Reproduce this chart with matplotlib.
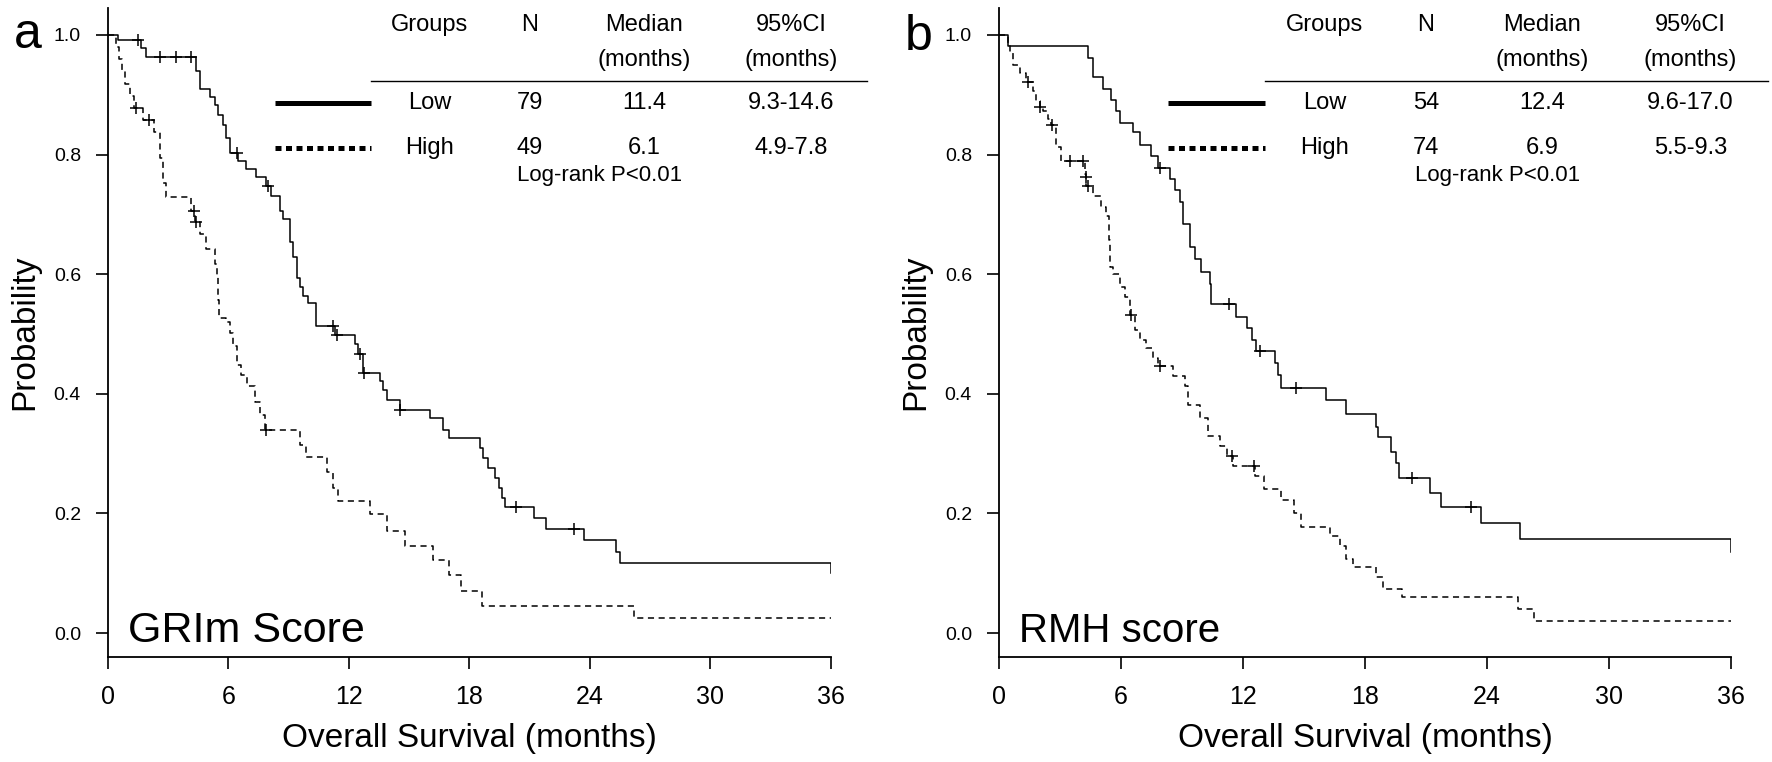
import matplotlib
matplotlib.use("Agg")
import matplotlib.pyplot as plt

plt.rcParams['font.family'] = ['Liberation Sans', 'DejaVu Sans']

# ---------------------------------------------------------------------
# data: event times (months) and survival after them
# ---------------------------------------------------------------------
# panel a: GRIm score
grim_low_t = [0, 0.5, 1.66, 1.9, 4.37, 4.57, 5.07, 5.32, 5.48, 5.73, 5.9, 6.06,
              6.48, 6.89, 7.39, 7.89, 8.14, 8.55, 8.72, 9.05, 9.22, 9.39, 9.55,
              9.72, 9.97, 10.38, 11.3, 12.29, 12.46, 12.71, 13.54, 13.70, 13.87,
              14.53, 16.03, 16.7, 17.0, 18.5, 18.65, 18.94, 19.27, 19.49, 19.6,
              19.77, 21.2, 21.8, 23.7, 25.3, 25.5, 36]
grim_low_s = [1.0, 0.992, 0.978, 0.963, 0.94, 0.91, 0.897, 0.883, 0.866, 0.849,
              0.827, 0.803, 0.79, 0.776, 0.762, 0.748, 0.731, 0.706, 0.692, 0.653,
              0.628, 0.594, 0.578, 0.564, 0.552, 0.513, 0.499, 0.483, 0.466, 0.435,
              0.421, 0.407, 0.39, 0.373, 0.359, 0.34, 0.326, 0.309, 0.292, 0.276,
              0.259, 0.242, 0.225, 0.21, 0.193, 0.174, 0.156, 0.136, 0.117, 0.10]
grim_low_cens_t = [1.5, 2.6, 3.4, 4.15, 6.4, 7.95, 11.2, 11.4, 12.55, 12.75, 14.55, 20.3, 23.2]
grim_low_cens_s = [0.992, 0.963, 0.963, 0.963, 0.803, 0.748, 0.513, 0.499, 0.466, 0.435, 0.373, 0.21, 0.174]

grim_high_t = [0, 0.42, 0.55, 0.7, 0.85, 1.1, 1.3, 1.74, 2.3, 2.6, 2.75, 2.9, 4.15,
               4.35, 4.57, 4.9, 5.32, 5.42, 5.46, 5.5, 5.54, 5.9, 6.06, 6.23, 6.4,
               6.64, 6.9, 7.3, 7.56, 7.8, 9.55, 9.88, 10.88, 11.21, 11.46, 13.04,
               13.87, 14.78, 16.2, 17.0, 17.6, 18.6, 26.2, 36]
grim_high_s = [1.0, 0.98, 0.959, 0.939, 0.918, 0.898, 0.878, 0.858, 0.837, 0.795,
               0.752, 0.729, 0.705, 0.687, 0.667, 0.642, 0.617, 0.597, 0.576, 0.556,
               0.527, 0.52, 0.502, 0.48, 0.449, 0.432, 0.413, 0.387, 0.365, 0.34,
               0.315, 0.294, 0.27, 0.243, 0.221, 0.199, 0.171, 0.145, 0.123, 0.097,
               0.071, 0.046, 0.025, 0.025]
grim_high_cens_t = [1.41, 2.04, 4.3, 4.4, 7.85]
grim_high_cens_s = [0.878, 0.858, 0.705, 0.687, 0.34]

# panel b: RMH score
rmh_low_t = [0, 0.44, 4.38, 4.62, 5.11, 5.52, 5.77, 5.93, 6.59, 6.92, 7.49, 7.82,
             8.39, 8.64, 8.89, 9.05, 9.38, 9.62, 9.95, 10.36, 10.44, 11.65, 12.2,
             12.45, 12.65, 13.56, 13.72, 13.89, 16.07, 17.05, 18.55, 18.64, 19.3,
             19.54, 19.67, 21.2, 21.75, 23.7, 25.6, 36]
rmh_low_s = [1.0, 0.982, 0.961, 0.929, 0.91, 0.892, 0.873, 0.853, 0.837, 0.816,
             0.798, 0.778, 0.759, 0.74, 0.72, 0.684, 0.645, 0.626, 0.604, 0.584,
             0.55, 0.529, 0.51, 0.49, 0.471, 0.452, 0.432, 0.41, 0.39, 0.366,
             0.345, 0.328, 0.303, 0.284, 0.26, 0.235, 0.21, 0.184, 0.158, 0.135]
rmh_low_cens_t = [7.9, 11.3, 12.85, 14.6, 20.3, 23.2]
rmh_low_cens_s = [0.778, 0.55, 0.471, 0.41, 0.26, 0.21]

rmh_high_t = [0, 0.44, 0.52, 0.69, 1.02, 1.34, 1.67, 1.84, 2.0, 2.16, 2.41, 2.55,
              2.82, 3.07, 4.21, 4.3, 4.62, 5.03, 5.28, 5.41, 5.44, 5.6, 5.93, 6.18,
              6.43, 6.67, 6.92, 7.25, 7.57, 7.8, 8.56, 9.13, 9.3, 9.87, 10.28,
              10.85, 11.2, 11.5, 12.6, 13.05, 13.88, 14.5, 14.87, 16.3, 16.75,
              17.08, 17.41, 18.55, 18.9, 19.8, 25.5, 26.3, 36]
rmh_high_s = [1.0, 0.986, 0.972, 0.95, 0.936, 0.922, 0.906, 0.889, 0.879, 0.873,
              0.859, 0.85, 0.812, 0.79, 0.767, 0.748, 0.731, 0.712, 0.698, 0.657,
              0.612, 0.601, 0.579, 0.562, 0.532, 0.507, 0.49, 0.476, 0.46, 0.446,
              0.429, 0.413, 0.382, 0.36, 0.33, 0.313, 0.296, 0.28, 0.263, 0.241,
              0.222, 0.2, 0.177, 0.163, 0.146, 0.124, 0.11, 0.093, 0.074, 0.06,
              0.04, 0.02, 0.02]
rmh_high_cens_t = [1.43, 2.0, 2.62, 3.48, 4.13, 4.3, 4.38, 6.5, 7.9, 11.45, 12.55]
rmh_high_cens_s = [0.922, 0.879, 0.85, 0.79, 0.79, 0.762, 0.748, 0.532, 0.446, 0.296, 0.28]

# table contents
header_top = ['Groups', 'N', 'Median', '95%CI']
header_bottom = ['', '', '(months)', '(months)']
groups = ['Low', 'High']
grim_n = ['79', '49']
grim_median = ['11.4', '6.1']
grim_ci = ['9.3-14.6', '4.9-7.8']
rmh_n = ['54', '74']
rmh_median = ['12.4', '6.9']
rmh_ci = ['9.6-17.0', '5.5-9.3']
logrank = 'Log-rank P<0.01'

x_ticks = [0, 6, 12, 18, 24, 30, 36]
y_ticks = [0.0, 0.2, 0.4, 0.6, 0.8, 1.0]

W, H = 1772, 762
fig = plt.figure(figsize=(W / 100, H / 100), dpi=100)

DASH = (0, (4, 3))
DOTS = (0, (1.2, 0.9))
TFS = 17  # table font size


def setup_axes(ax):
    ax.set_xlim(0, 36)
    ax.set_ylim(-0.04, 1.045)
    for side in ['top', 'right']:
        ax.spines[side].set_visible(False)
    for side in ['left', 'bottom']:
        ax.spines[side].set_linewidth(1.3)
    ax.spines['bottom'].set_bounds(0, 36)
    ax.set_xticks(x_ticks)
    ax.set_xticklabels([str(v) for v in x_ticks], fontsize=18)
    ax.set_yticks(y_ticks)
    ax.set_yticklabels([f'{v:.1f}' for v in y_ticks], fontsize=14)
    ax.tick_params(direction='out', length=8.5, width=1.2)
    ax.tick_params(axis='y', pad=11)
    ax.tick_params(axis='x', pad=12)
    ax.set_ylabel('Probability', fontsize=24, labelpad=10)
    ax.set_xlabel('Overall Survival (months)', fontsize=24, labelpad=10)


def draw_panel(ax, low_t, low_s, lc_t, lc_s, high_t, high_s, hc_t, hc_s,
               n, median, ci, score_name, score_size):
    setup_axes(ax)
    ax.step(low_t, low_s, where='post', color='black', lw=1.1)
    ax.step(high_t, high_s, where='post', color='black', lw=1.1, linestyle=DASH)
    ax.plot(lc_t, lc_s, linestyle='none', marker='+', color='black', ms=9, mew=1.1)
    ax.plot(hc_t, hc_s, linestyle='none', marker='+', color='black', ms=9, mew=1.1)

    # table in the upper right
    col_x = [16.0, 21.0, 26.7, 34.0]
    for x, top, bottom in zip(col_x, header_top, header_bottom):
        ax.text(x, 1.017, top, ha='center', va='center', fontsize=TFS)
        if bottom:
            ax.text(x, 0.958, bottom, ha='center', va='center', fontsize=TFS)
    ax.plot([13.1, 37.8], [0.923, 0.923], color='black', lw=1.0, clip_on=False)
    row_y = [0.886, 0.811]
    for i, y in enumerate(row_y):
        ax.text(col_x[0], y, groups[i], ha='center', va='center', fontsize=TFS)
        ax.text(col_x[1], y, n[i], ha='center', va='center', fontsize=TFS)
        ax.text(col_x[2], y, median[i], ha='center', va='center', fontsize=TFS)
        ax.text(col_x[3], y, ci[i], ha='center', va='center', fontsize=TFS)
    ax.plot([8.3, 13.1], [row_y[0], row_y[0]], color='black', lw=3.6,
            solid_capstyle='butt')
    ax.plot([8.3, 13.1], [row_y[1], row_y[1]], color='black', lw=3.6,
            linestyle=DOTS, dash_capstyle='butt')
    ax.text(24.5, 0.765, logrank, ha='center', va='center', fontsize=16)

    ax.text(1.0, -0.015, score_name, fontsize=score_size, va='baseline')


ax_a = fig.add_axes([108 / W, 1 - 657 / H, 723 / W, 649 / H])
draw_panel(ax_a, grim_low_t, grim_low_s, grim_low_cens_t, grim_low_cens_s,
           grim_high_t, grim_high_s, grim_high_cens_t, grim_high_cens_s,
           grim_n, grim_median, grim_ci, 'GRIm Score', 31)

ax_b = fig.add_axes([999 / W, 1 - 657 / H, 732 / W, 649 / H])
draw_panel(ax_b, rmh_low_t, rmh_low_s, rmh_low_cens_t, rmh_low_cens_s,
           rmh_high_t, rmh_high_s, rmh_high_cens_t, rmh_high_cens_s,
           rmh_n, rmh_median, rmh_ci, 'RMH score', 29)

fig.text(14 / W, 1 - 48 / H, 'a', fontsize=36, va='baseline')
fig.text(905 / W, 1 - 50 / H, 'b', fontsize=36, va='baseline')

fig.savefig('out.png', dpi=100)
